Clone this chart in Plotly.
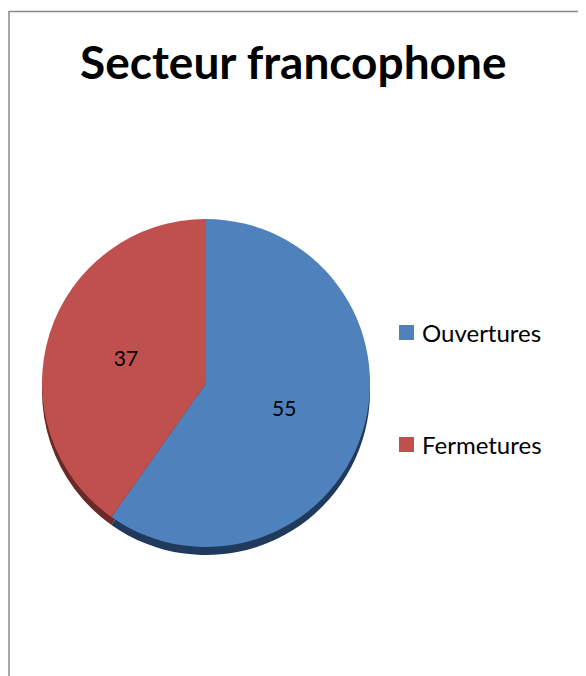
import plotly.graph_objects as go

title = "Secteur francophone"
labels = ["Ouvertures", "Fermetures"]
values = [55, 37]
colors = ["#4F81BD", "#C0504D"]
rim_colors = ["#1F3A5C", "#6A2A28"]

W, H = 586, 676
OFF = 8  # page body margin

def px_x(x):
    return (x - OFF) / W

def px_y(y):
    return 1 - (y - OFF) / H

cx, cy, r = 206, 383, 164
rim = 8

fig = go.Figure()

# 3D rim (darker copy shifted down)
fig.add_trace(go.Pie(
    labels=labels, values=values, sort=False, direction="clockwise", rotation=0,
    marker=dict(colors=rim_colors, line=dict(width=0)),
    textinfo="none", hoverinfo="skip", showlegend=False,
    domain=dict(x=[px_x(cx - r), px_x(cx + r)], y=[px_y(cy + r + rim), px_y(cy - r + rim)]),
))

fig.add_trace(go.Pie(
    labels=labels, values=values, sort=False, direction="clockwise", rotation=0,
    marker=dict(colors=colors, line=dict(width=0)),
    textinfo="value", textposition="inside", insidetextorientation="horizontal",
    textfont=dict(family="Lato", size=21, color="#000000"),
    showlegend=False,
    domain=dict(x=[px_x(cx - r), px_x(cx + r)], y=[px_y(cy + r), px_y(cy - r)]),
))

shapes = [dict(type="rect", xref="paper", yref="paper",
               x0=px_x(9), x1=px_x(640), y0=px_y(740), y1=px_y(11.5),
               line=dict(color="#8a8a8a", width=1.5), fillcolor="rgba(0,0,0,0)")]
annotations = [dict(text="<b>" + title + "</b>", x=px_x(293), y=px_y(62), xref="paper", yref="paper",
                    showarrow=False, xanchor="center", yanchor="middle",
                    font=dict(family="Lato", size=46, color="#000000"))]

leg_y = [332.5, 444.5]
for lab, col, ly in zip(labels, colors, leg_y):
    shapes.append(dict(type="rect", xref="paper", yref="paper",
                       x0=px_x(399), x1=px_x(414), y0=px_y(ly + 7.5), y1=px_y(ly - 7.5),
                       line=dict(width=0), fillcolor=col))
    annotations.append(dict(text=lab, x=px_x(420), y=px_y(ly), xref="paper", yref="paper",
                            showarrow=False, xanchor="left", yanchor="middle",
                            font=dict(family="Lato", size=24, color="#000000")))

fig.update_layout(
    width=W, height=H, margin=dict(l=0, r=0, t=0, b=0),
    paper_bgcolor="white", plot_bgcolor="white",
    shapes=shapes, annotations=annotations, showlegend=False,
)

fig.write_html("out.html")
